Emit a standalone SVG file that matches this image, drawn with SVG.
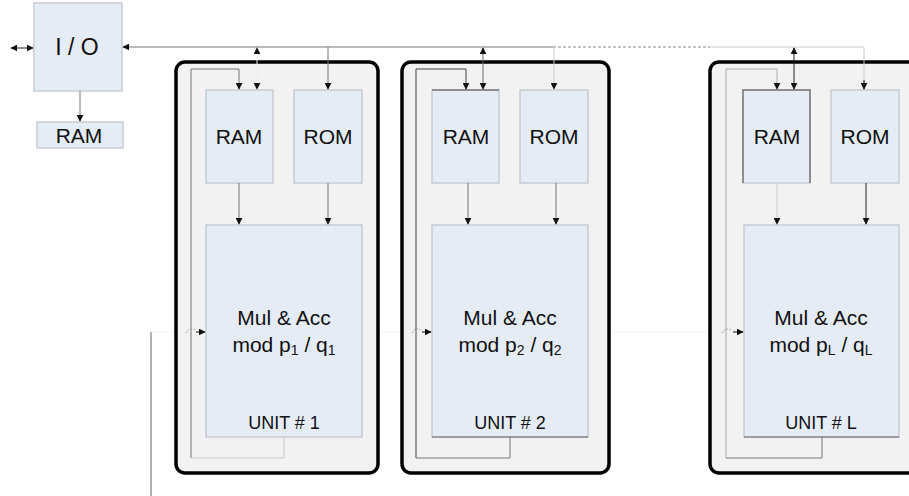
<svg xmlns="http://www.w3.org/2000/svg" width="909" height="496" viewBox="0 0 909 496">
<style>
text{font-family:"Liberation Sans",Arial,sans-serif;fill:#111;text-anchor:middle}
.blk{fill:#e6ecf6;stroke:#c8ccd2;stroke-width:1.5}
.unit{fill:#f2f2f2;stroke:#000;stroke-width:3.5}
.ln{fill:none;stroke:#777;stroke-width:1}
.dk{fill:none;stroke:#222;stroke-width:1}
.lt{fill:none;stroke:#ccc;stroke-width:1}
.t18{font-size:21px}
.t19{font-size:21px}
.t16{font-size:18px}
</style>
<defs>
<marker id="ah" viewBox="0 0 10 10" refX="9" refY="5" markerWidth="7" markerHeight="7" orient="auto-start-reverse" markerUnits="userSpaceOnUse">
<path d="M0,0 L10,5 L0,10 z" fill="#111"/>
</marker>
</defs>

<g id="background">
<line x1="151" y1="332" x2="909" y2="332" stroke="#f3f3f3" stroke-width="1"/>
<line x1="151" y1="332" x2="151" y2="496" stroke="#999" stroke-width="1.5"/>
</g>

<g id="io">
<rect class="blk" x="34" y="3" width="88" height="88"/>
<text x="77" y="55" font-size="23">I / O</text>
</g>
<g id="ram-io">
<rect class="blk" x="37" y="122" width="86" height="26"/>
<text x="79" y="143" font-size="21">RAM</text>
</g>

<g id="unit1">
<rect class="unit" x="176" y="62" width="202" height="411" rx="9"/>
<rect class="blk" x="206" y="90" width="67" height="93"/>
<text x="239" y="144" class="t18">RAM</text>
<rect class="blk" x="294" y="90" width="68" height="93"/>
<text x="328" y="144" class="t18">ROM</text>
<rect class="blk" x="206" y="225" width="156" height="212"/>
<text x="284" y="325" class="t19">Mul &amp; Acc</text>
<text x="284" y="352" class="t19">mod p<tspan font-size="14" dy="3">1</tspan><tspan dy="-3"> / q</tspan><tspan font-size="14" dy="3">1</tspan></text>
<text x="284" y="429" class="t16">UNIT # 1</text>
</g>

<g id="unit2">
<rect class="unit" x="402" y="62" width="207" height="411" rx="9"/>
<rect class="blk" x="432" y="90" width="67" height="93"/>
<line x1="432" y1="90" x2="499" y2="90" stroke="#777" stroke-width="1.5"/>
<text x="466" y="144" class="t18">RAM</text>
<rect class="blk" x="520" y="90" width="68" height="93"/>
<text x="554" y="144" class="t18">ROM</text>
<rect class="blk" x="432" y="225" width="156" height="212"/>
<line x1="432" y1="437" x2="588" y2="437" stroke="#888" stroke-width="1.5"/>
<text x="510" y="325" class="t19">Mul &amp; Acc</text>
<text x="510" y="352" class="t19">mod p<tspan font-size="14" dy="3">2</tspan><tspan dy="-3"> / q</tspan><tspan font-size="14" dy="3">2</tspan></text>
<text x="510" y="429" class="t16">UNIT # 2</text>
</g>

<g id="unitL">
<rect class="unit" x="710" y="62" width="220" height="411" rx="9"/>
<rect class="blk" x="743" y="90" width="67" height="93"/>
<polyline points="743,183 743,90 810,90 810,183" fill="none" stroke="#777" stroke-width="1.5"/>
<text x="777" y="144" class="t18">RAM</text>
<rect class="blk" x="831" y="90" width="68" height="93"/>
<text x="865" y="144" class="t18">ROM</text>
<rect class="blk" x="744" y="225" width="155" height="212"/>
<line x1="744" y1="437" x2="899" y2="437" stroke="#888" stroke-width="1.5"/>
<text x="821" y="325" class="t19">Mul &amp; Acc</text>
<text x="821" y="352" class="t19">mod p<tspan font-size="14" dy="3">L</tspan><tspan dy="-3"> / q</tspan><tspan font-size="14" dy="3">L</tspan></text>
<text x="821" y="429" class="t16">UNIT # L</text>
</g>

<g id="connectors">
<line class="dk" x1="11" y1="48" x2="33" y2="48" marker-start="url(#ah)" marker-end="url(#ah)"/>
<line class="ln" x1="80" y1="91" x2="80" y2="121" marker-end="url(#ah)"/>
<line class="ln" x1="553" y1="47" x2="123" y2="47" marker-end="url(#ah)"/>
<line x1="553" y1="47" x2="710" y2="47" stroke="#888" stroke-width="1" stroke-dasharray="3,2"/>
<polyline class="lt" points="710,47 864,47 864,89"/>
<line x1="864" y1="80" x2="864" y2="89" stroke="#111" marker-end="url(#ah)"/>

<polyline class="ln" points="191,458 191,69 239,69 239,89" marker-end="url(#ah)"/>
<line x1="257" y1="48" x2="257" y2="89" stroke="#eee" marker-start="url(#ah)" marker-end="url(#ah)"/>
<line class="ln" x1="328" y1="47" x2="328" y2="89" marker-end="url(#ah)"/>
<line class="ln" x1="239" y1="183" x2="239" y2="224" marker-end="url(#ah)"/>
<line class="ln" x1="328" y1="183" x2="328" y2="224" marker-end="url(#ah)"/>
<polyline class="lt" points="284,437 284,458 191,458"/>
<path d="M186,333 Q190,326 196,331" fill="none" stroke="#999" stroke-dasharray="1.5,1.5"/>
<line x1="196" y1="332" x2="205" y2="332" stroke="#111" marker-end="url(#ah)"/>

<polyline class="dk" points="416,458 416,69 466,69 466,89" marker-end="url(#ah)" style="stroke:#444"/>
<line class="dk" x1="483" y1="48" x2="483" y2="89" marker-start="url(#ah)" marker-end="url(#ah)" style="stroke:#666"/>
<line class="lt" x1="554" y1="47" x2="554" y2="89" marker-end="url(#ah)"/>
<line class="ln" x1="468" y1="183" x2="468" y2="224" marker-end="url(#ah)"/>
<line class="ln" x1="556" y1="183" x2="556" y2="224" marker-end="url(#ah)"/>
<polyline class="ln" points="510,437 510,458 416,458"/>
<path d="M412,333 Q416,326 422,331" fill="none" stroke="#999" stroke-dasharray="1.5,1.5"/>
<line x1="422" y1="332" x2="431" y2="332" stroke="#111" marker-end="url(#ah)"/>

<polyline class="ln" points="726,458 726,69 777,69 777,89" marker-end="url(#ah)" style="stroke:#aaa"/>
<line class="dk" x1="794" y1="48" x2="794" y2="89" marker-start="url(#ah)" marker-end="url(#ah)"/>
<line class="lt" x1="777" y1="183" x2="777" y2="224" marker-end="url(#ah)"/>
<line class="dk" x1="866" y1="183" x2="866" y2="224" marker-end="url(#ah)"/>
<polyline class="ln" points="822,437 822,458 726,458"/>
<path d="M722,333 Q726,326 732,331" fill="none" stroke="#999" stroke-dasharray="1.5,1.5"/>
<line x1="733" y1="332" x2="743" y2="332" stroke="#111" marker-end="url(#ah)"/>
</g>
</svg>
